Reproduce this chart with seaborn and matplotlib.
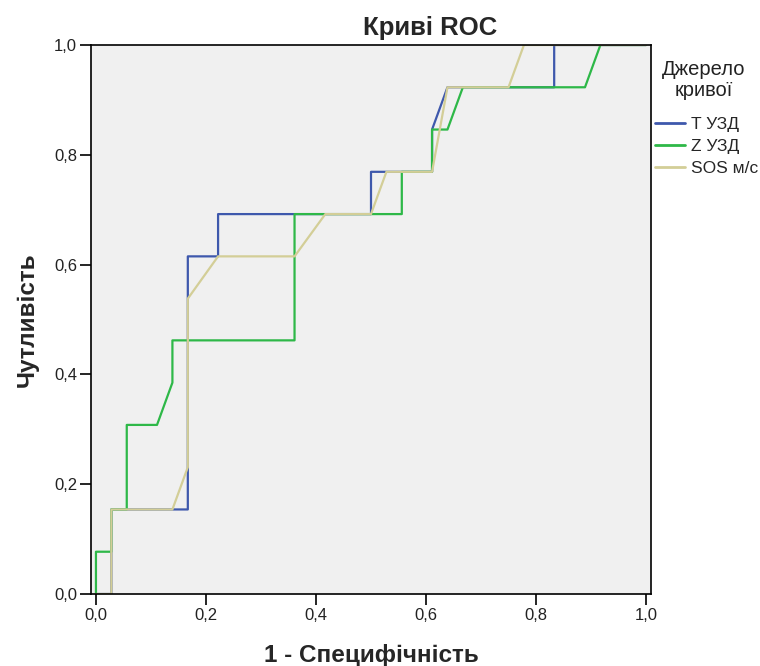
import matplotlib
matplotlib.use("Agg")
import matplotlib.pyplot as plt
from matplotlib.lines import Line2D
from matplotlib.ticker import FuncFormatter
import pandas as pd
import seaborn as sns

# ROC vertices: 1 - specificity (x) and sensitivity (y) for each test variable
t_fpr = [0.0, 0.028, 0.028, 0.167, 0.167, 0.222, 0.222, 0.5, 0.5, 0.611, 0.611, 0.639, 0.833, 0.833, 1.0]
t_tpr = [0.0, 0.0, 0.154, 0.154, 0.615, 0.615, 0.692, 0.692, 0.769, 0.769, 0.846, 0.923, 0.923, 1.0, 1.0]

z_fpr = [0.0, 0.0, 0.028, 0.028, 0.056, 0.056, 0.111, 0.139, 0.139, 0.361, 0.361, 0.556, 0.556,
         0.611, 0.611, 0.639, 0.667, 0.889, 0.917, 1.0]
z_tpr = [0.0, 0.077, 0.077, 0.154, 0.154, 0.308, 0.308, 0.385, 0.462, 0.462, 0.692, 0.692, 0.769,
         0.769, 0.846, 0.846, 0.923, 0.923, 1.0, 1.0]

sos_fpr = [0.0, 0.028, 0.028, 0.139, 0.167, 0.167, 0.222, 0.361, 0.417, 0.5, 0.528, 0.611, 0.639,
           0.75, 0.778, 1.0]
sos_tpr = [0.0, 0.0, 0.154, 0.154, 0.231, 0.538, 0.615, 0.615, 0.692, 0.692, 0.769, 0.769, 0.923,
           0.923, 1.0, 1.0]

curve_names = ["T УЗД", "Z УЗД", "SOS м/с"]
curve_colors = ["#3E58AC", "#2EB848", "#D3CE97"]
tick_values = [0.0, 0.2, 0.4, 0.6, 0.8, 1.0]

frames = []
for name, xs, ys in zip(curve_names, [t_fpr, z_fpr, sos_fpr], [t_tpr, z_tpr, sos_tpr]):
    frames.append(pd.DataFrame({"fpr": xs, "tpr": ys, "curve": name}))
df = pd.concat(frames, ignore_index=True)

sns.set_theme(style="white")
plt.rcParams["font.family"] = ["Liberation Sans", "DejaVu Sans"]

fig = plt.figure(figsize=(7.6, 6.66), dpi=100)
ax = fig.add_axes([91 / 760, 1 - 594 / 666, 560 / 760, 549 / 666])
ax.set_facecolor("#F0F0F0")

sns.lineplot(data=df, x="fpr", y="tpr", hue="curve", hue_order=curve_names,
             palette=curve_colors, sort=False, estimator=None, linewidth=1.6,
             legend=False, ax=ax)

ax.set_xlim(-0.009, 1.009)
ax.set_ylim(0, 1)
ax.set_xticks(tick_values)
ax.set_yticks(tick_values)
comma = FuncFormatter(lambda v, p: f"{v:.1f}".replace(".", ","))
ax.xaxis.set_major_formatter(comma)
ax.yaxis.set_major_formatter(comma)
ax.tick_params(axis="both", direction="out", length=8, width=1.2, color="black",
               labelsize=12, labelcolor="#222222", pad=2,
               bottom=True, left=True)
for s in ax.spines.values():
    s.set_visible(True)
    s.set_color("black")
    s.set_linewidth(1.2)
    s.set_zorder(3)

ax.set_xlabel("1 - Специфічність", fontsize=17.5, fontweight="bold", labelpad=15)
ax.set_ylabel("Чутливість", fontsize=17.5, fontweight="bold", labelpad=11)

fig.text(430 / 760, 1 - 28 / 666, "Криві ROC", ha="center", va="center",
         fontsize=18.5, fontweight="bold")

# legend heading, then the entries below it
fig.text(704 / 760, 1 - 80 / 666, "Джерело\nкривої", ha="center", va="center",
         multialignment="center", fontsize=14.5, linespacing=1.17, color="#222222")

handles = [Line2D([], [], color=c, linewidth=2) for c in curve_colors]
fig.legend(handles, curve_names, loc="upper left",
           bbox_to_anchor=(655 / 760, 1 - 117 / 666), frameon=False,
           borderpad=0, borderaxespad=0, fontsize=12.5, handlelength=1.75,
           handletextpad=0.35, labelspacing=0.38)

fig.savefig("out.png", dpi=100)
